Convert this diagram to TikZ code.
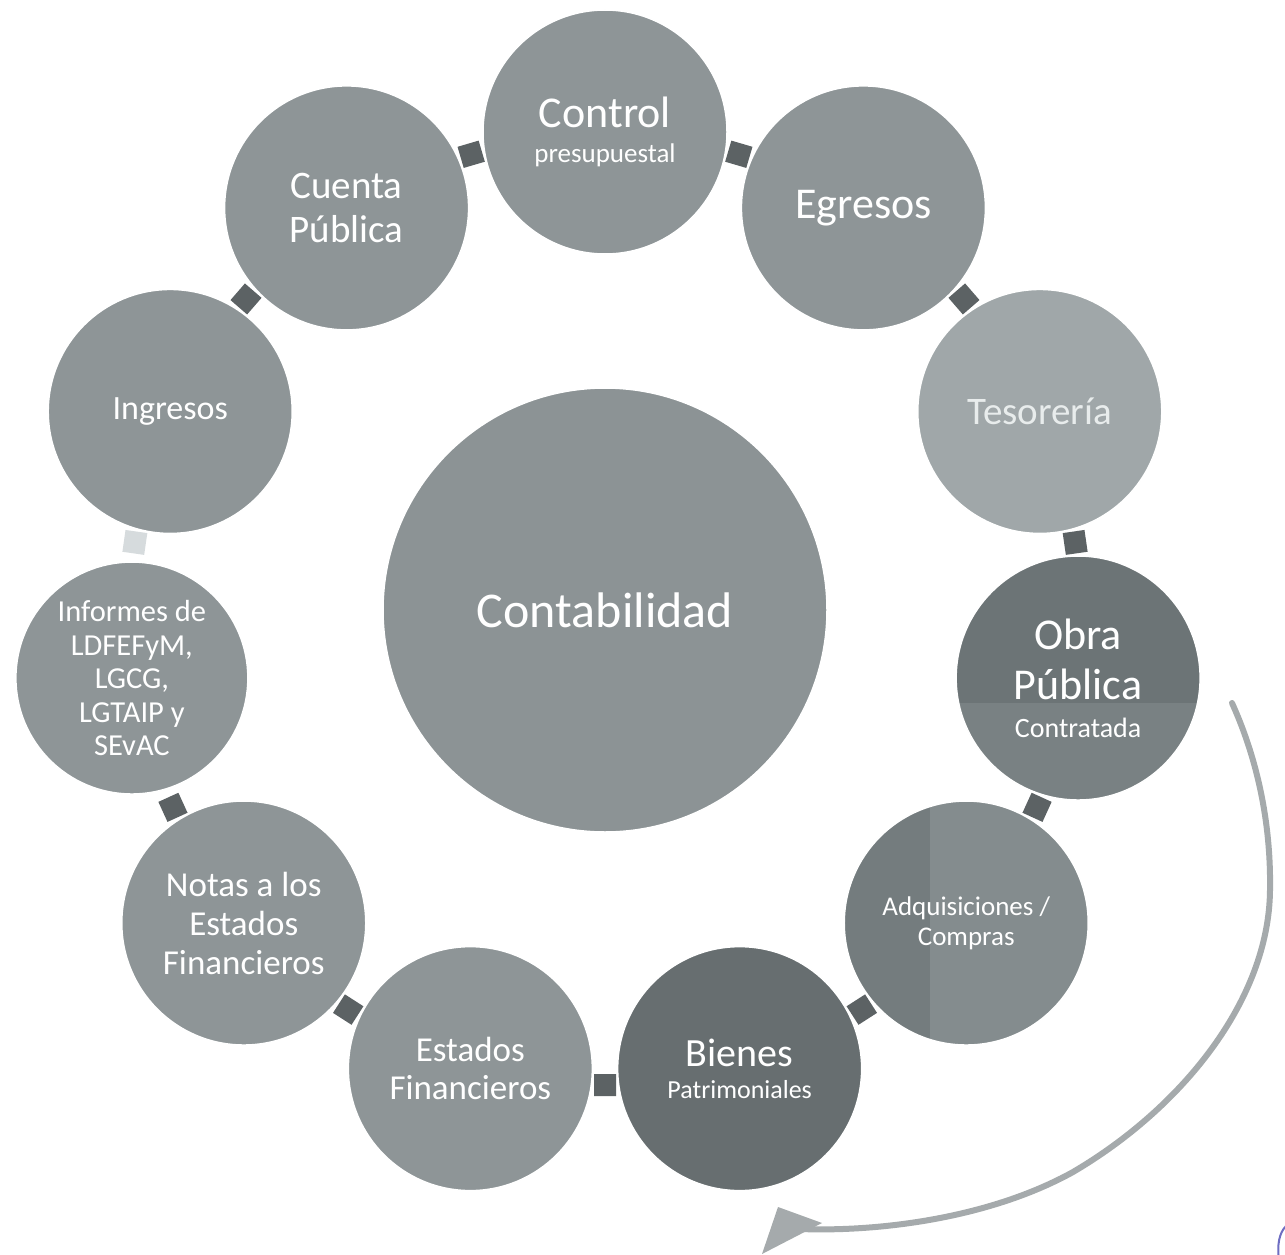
\documentclass[tikz,border=0pt]{standalone}
\usepackage{fontspec}
\setmainfont{Carlito}
\usetikzlibrary{calc}
\definecolor{circgray}{RGB}{142,149,151}
\definecolor{tesogray}{RGB}{160,167,169}
\definecolor{obratop}{RGB}{108,116,118}
\definecolor{obrabot}{RGB}{121,129,131}
\definecolor{adqleft}{RGB}{116,124,126}
\definecolor{adqright}{RGB}{132,140,142}
\definecolor{bienesgray}{RGB}{103,110,112}
\definecolor{contgray}{RGB}{140,147,149}
\definecolor{linkgray}{RGB}{92,98,100}
\definecolor{linklight}{RGB}{214,219,221}
\definecolor{arrowgray}{RGB}{165,170,172}
\definecolor{tesotext}{RGB}{232,236,236}
\definecolor{fragblue}{RGB}{110,110,195}
\newcommand\setfs[2]{\fontsize{#1}{#2}\selectfont}
\begin{document}
\begin{tikzpicture}[x=1pt,y=1pt,
  bub/.style={circle, draw=white, line width=1.5pt, fill=circgray, minimum size=244pt,
    inner sep=0pt, text=white, align=center},
  link/.style={rectangle, fill=linkgray, minimum size=22pt, inner sep=0pt},
  arrowline/.style={draw=arrowgray, line width=6pt, line cap=round}
]
\useasboundingbox (0,0) rectangle (1285,-1255);
\fill[white] (0,0) rectangle (1285,-1255);
\coordinate (O) at (605,-610);

% connectors between the bubbles
\foreach \i/\c in {0/linkgray,1/linkgray,2/linkgray,3/linkgray,4/linkgray,5/linkgray,6/linkgray,7/linkgray,8/linklight,9/linkgray,10/linkgray}{
  \pgfmathsetmacro\ang{73.636-\i*32.727}
  \node[link, fill=\c, rotate=\ang] (l\i) at ($(O)+(\ang:475)$) {};
}

% outer bubbles
\node[bub, font=\setfs{44}{50}] (c0) at ($(O)+(90:478)$)
  {Control\\[-15pt]{\setfs{27}{30}presupuestal}};
\node[bub, font=\setfs{44}{50}] (c1) at ($(O)+(57.273:478)$) {Egresos};
\node[bub, fill=tesogray, text=tesotext, font=\setfs{39}{44}] (c2) at ($(O)+(24.545:478)$) {Tesorería};
\node[bub, fill=obratop, font=\setfs{44}{50},
  path picture={\fill[obrabot] ([yshift=-25pt]path picture bounding box.west) rectangle (path picture bounding box.south east);}]
  (c3) at ($(O)+(-8.182:478)$)
  {Obra\\Pública\\[-12pt]{\setfs{28}{32}Contratada}};
\node[bub, fill=adqright, font=\setfs{27}{30},
  path picture={\fill[adqleft] (path picture bounding box.south west) rectangle ([xshift=-36pt]path picture bounding box.north);}]
  (c4) at ($(O)+(-40.909:478)$)
  {Adquisiciones /\\Compras};
\node[bub, fill=bienesgray, font=\setfs{40}{46}] (c5) at ($(O)+(-73.636:478)$)
  {Bienes\\[-14pt]{\setfs{26}{30}Patrimoniales}};
\node[bub, font=\setfs{35}{38}] (c6) at ($(O)+(-106.364:478)$) {Estados\\Financieros};
\node[bub, font=\setfs{35}{39}] (c7) at ($(O)+(-139.091:478)$) {Notas a los\\Estados\\Financieros};
\node[bub, minimum size=232pt, font=\setfs{30.5}{33.5}] (c8) at ($(O)+(-171.818:478)$)
  {Informes de\\LDFEFyM,\\LGCG,\\LGTAIP y\\SEvAC};
\node[bub, font=\setfs{34}{40}] (c9) at ($(O)+(155.455:478)$) {Ingresos};
\node[bub, font=\setfs{39}{44}] (c10) at ($(O)+(122.727:478)$) {Cuenta\\Pública};

% central bubble
\node[bub, fill=contgray, minimum size=444pt, font=\setfs{50}{56}] (ctr) at (O) {Contabilidad};

% curved arrow on the right
\coordinate (a0) at (1232,-703);
\coordinate (am) at (1270,-890);
\coordinate (an) at (1073,-1172);
\coordinate (a1) at (800,-1229);
\draw[arrowline] (a0) .. controls (1260,-765) and (1271,-830) .. (am)
  .. controls (1269,-1000) and (1182,-1108) .. (an)
  .. controls (990,-1218) and (880,-1232) .. (a1);
\fill[arrowgray] (778,-1207) -- (822,-1223) -- (762,-1254) -- cycle;

% fragment at the lower right corner
\draw[fragblue, line width=2pt] (1286,-1226) .. controls (1279,-1233) and (1277,-1245) .. (1279,-1260);
\end{tikzpicture}
\end{document}
